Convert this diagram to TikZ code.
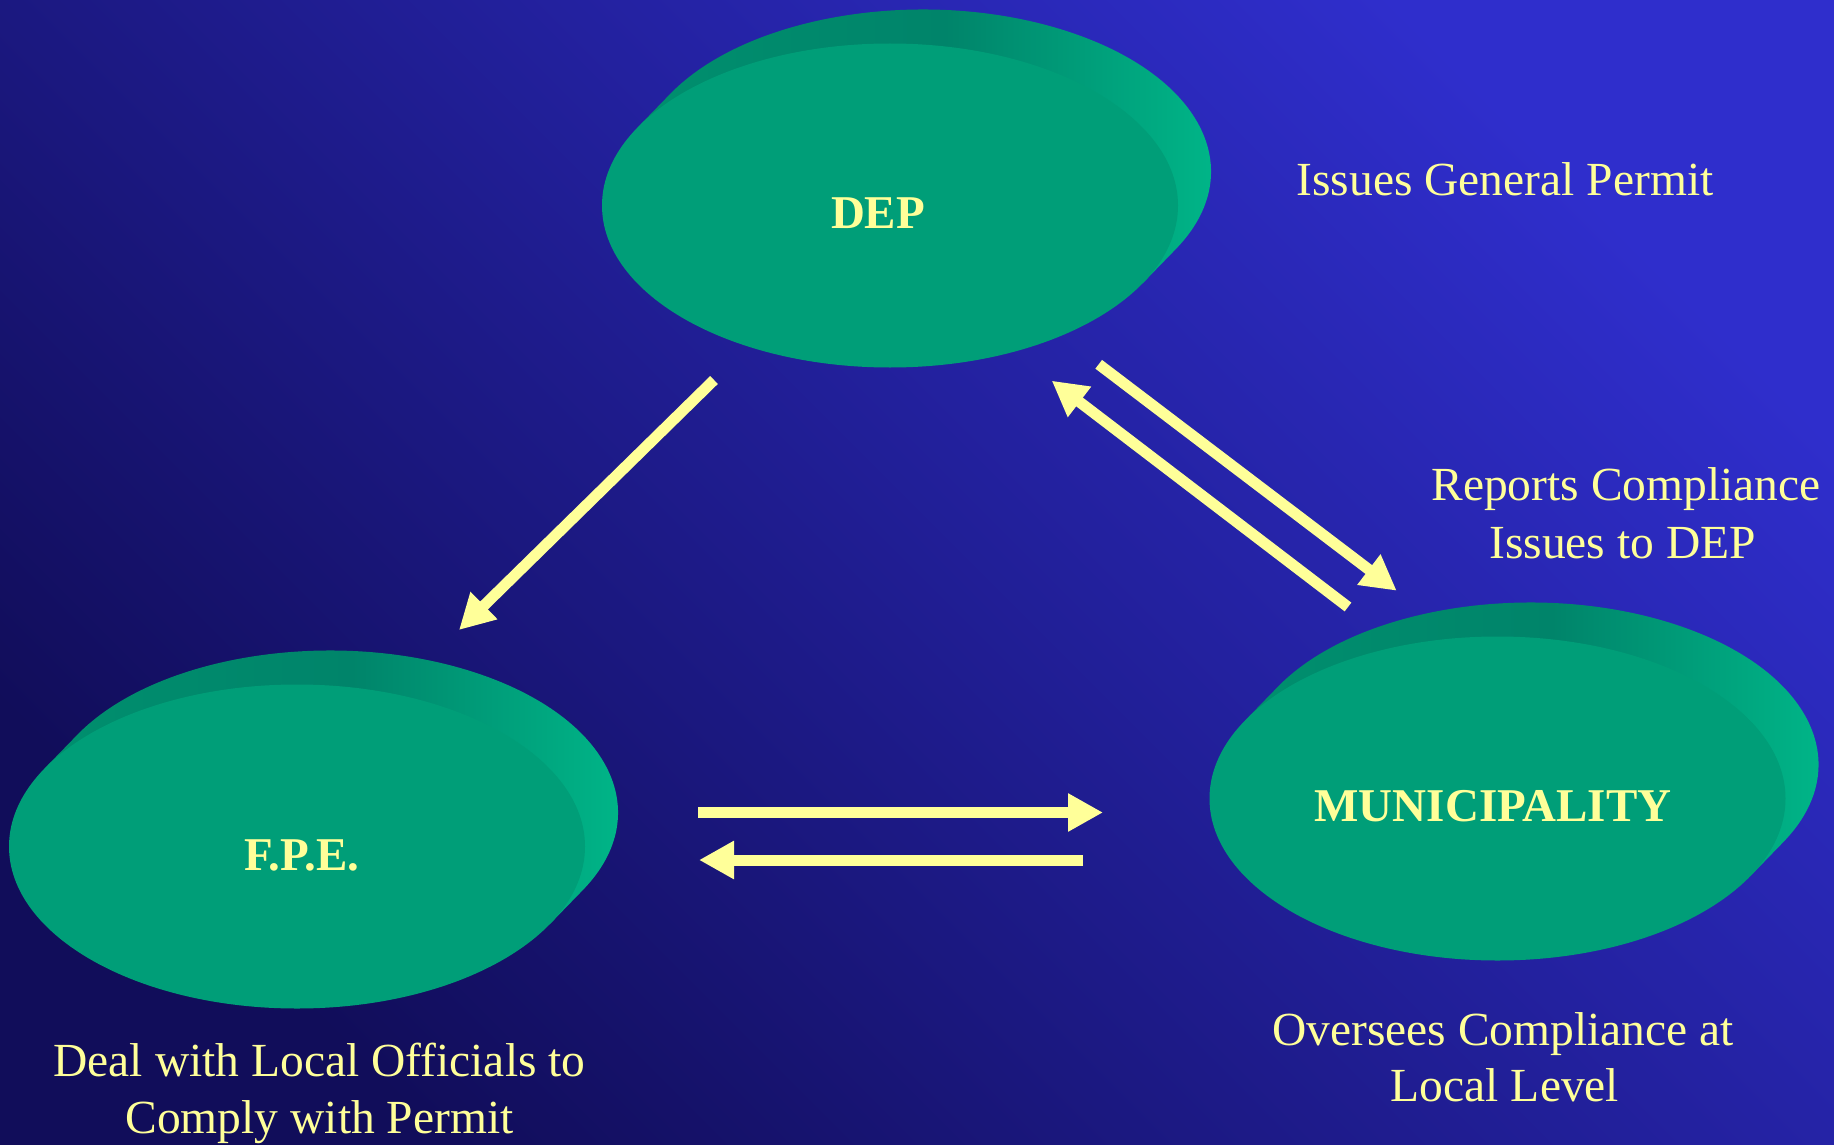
\documentclass[tikz,border=0pt]{standalone}
\usepackage{fontspec}
\setmainfont{Liberation Serif}
\usetikzlibrary{arrows.meta,calc}
\definecolor{bgdark}{HTML}{110D5A}
\definecolor{bglight}{HTML}{2F2ECC}
\definecolor{face}{HTML}{009E78}
\definecolor{sidedark}{HTML}{00846A}
\definecolor{sideleft}{HTML}{008F6E}
\definecolor{sidebright}{HTML}{00BC8C}
\definecolor{pale}{HTML}{FFFF99}
\tikzset{
  flow/.style={draw=pale, line width=11pt, -{Triangle[length=35pt,width=36pt]}},
  note/.style={text=pale, font=\fontsize{47.5}{58}\selectfont, anchor=base, inner sep=0pt},
  title/.style={text=pale, font=\fontsize{47}{56}\selectfont\bfseries, anchor=base, inner sep=0pt},
  diskside/.style={left color=sideleft, right color=sidebright, middle color=sidedark},
  diskface/.style={fill=face}
}
\newcommand\drawdisk[2]{%
  \shade[diskside]
    (#1,#2) ++(208.7:288 and 162) -- ++(33,-34)
    arc[start angle=208.7, end angle=388.7, x radius=288, y radius=162]
    -- ++(-33,34) -- cycle;
  \fill[diskface] (#1,#2) ellipse[x radius=288, y radius=162];
}
\begin{document}
\begin{tikzpicture}[x=1pt,y=-1pt]
\useasboundingbox (0,0) rectangle (1834,1145);
\shade[top color=bglight, bottom color=bgdark, shading angle=-45] (0,0) rectangle (1834,1145);

% disks
\drawdisk{890}{205.5}
\drawdisk{297}{846.5}
\drawdisk{1497.5}{798.5}

% disk labels
\node[title] (dep) at (878,228) {DEP};
\node[title] (fpe) at (302,870) {F.P.E.};
\node[title] (mun) at (1493,821) {MUNICIPALITY};

% notes
\node[note] (depnote) at (1505,195) {Issues General Permit};
\node[note] (repA) at (1626,500) {Reports Compliance};
\node[note] (repB) at (1622.5,558) {Issues to DEP};
\node[note] (munA) at (1503,1045) {Oversees Compliance at};
\node[note] (munB) at (1505,1101.7) {Local Level};
\node[note] (fpeA) at (319.5,1076.7) {Deal with Local Officials to};
\node[note] (fpeB) at (319.5,1133.3) {Comply with Permit};

% arrow ends
\coordinate (depOut) at (714,380);
\coordinate (fpeIn) at (459,630);
\coordinate (depOut2) at (1098.7,364.3);
\coordinate (munIn) at (1396.7,590.7);
\coordinate (munOut) at (1348,607);
\coordinate (depIn) at (1051.7,380.7);
\coordinate (fpeOut) at (698,812.5);
\coordinate (munIn2) at (1103,812.5);
\coordinate (munOut2) at (1083,860);
\coordinate (fpeIn2) at (699,860);

\draw[flow] (depOut) -- (fpeIn);
\draw[flow] (depOut2) -- (munIn);
\draw[flow] (munOut) -- (depIn);
\draw[flow] (fpeOut) -- (munIn2);
\draw[flow] (munOut2) -- (fpeIn2);
\end{tikzpicture}
\end{document}
